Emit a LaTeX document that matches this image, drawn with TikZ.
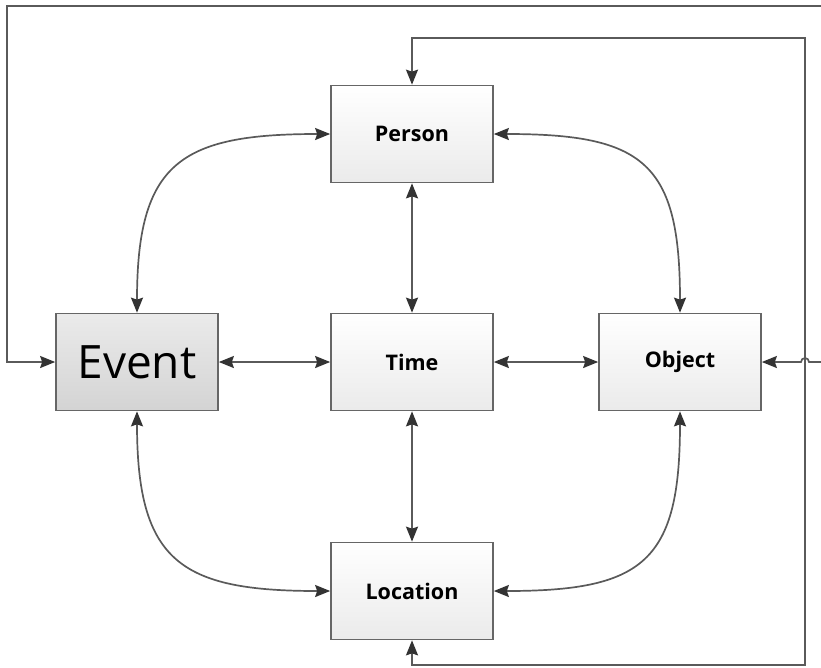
\documentclass[tikz,border=0pt]{standalone}
\usepackage{fontspec}
\setmainfont{Open Sans}
\usetikzlibrary{arrows.meta,shadings}
\definecolor{linegray}{HTML}{5A5A5A}
\definecolor{headgray}{HTML}{333333}
\definecolor{boxedge}{HTML}{666666}
\tikzset{hd/.tip={Stealth[length=15pt,width=12pt,inset=2pt,color=headgray]}}
\begin{document}
\begin{tikzpicture}[x=1pt,y=-1pt,
  entity/.style={draw=boxedge,line width=1.7pt,minimum width=162pt,minimum height=97pt,
    top color=white,bottom color=black!8,inner sep=0pt,
    font=\fontsize{21.5}{26}\selectfont\bfseries},
  mainentity/.style={entity,top color=black!8,bottom color=black!17,
    font=\fontsize{46}{52}\selectfont},
  conn/.style={draw=linegray,line width=1.7pt,line join=miter,hd-hd}
]
\useasboundingbox (0,0) rectangle (821,667);

% entities
\node[entity]     (P) at (412,134) {Person};
\node[entity]     (T) at (412,362) {Time};
\node[entity]     (L) at (412,591) {Location};
\node[mainentity] (E) at (137,362) {Event};
\node[entity]     (O) at (680,362) {Object};

% straight links through Time
\draw[conn] (E.east) -- (T.west);
\draw[conn] (T.east) -- (O.west);
\draw[conn] (P.south) -- (T.north);
\draw[conn] (T.south) -- (L.north);

% curved links around Time
\draw[conn] (P.west) .. controls +(-150,0) and +(0,-150) .. (E.north);
\draw[conn] (P.east) .. controls +(150,0) and +(0,-150) .. (O.north);
\draw[conn] (E.south) .. controls +(0,150) and +(-150,0) .. (L.west);
\draw[conn] (O.south) .. controls +(0,150) and +(150,0) .. (L.east);

% outer loop from Event to Object, hopping over the inner loop
\draw[conn] (E.west) -- (7,362) -- (7,6) -- (825,6) -- (825,362) -- (809,362)
  arc[start angle=0,end angle=-180,radius=4] -- (O.east);

% inner loop from Person to Location
\draw[conn] (P.north) -- (412,38) -- (805,38) -- (805,665) -- (412,665) -- (L.south);
\end{tikzpicture}
\end{document}
